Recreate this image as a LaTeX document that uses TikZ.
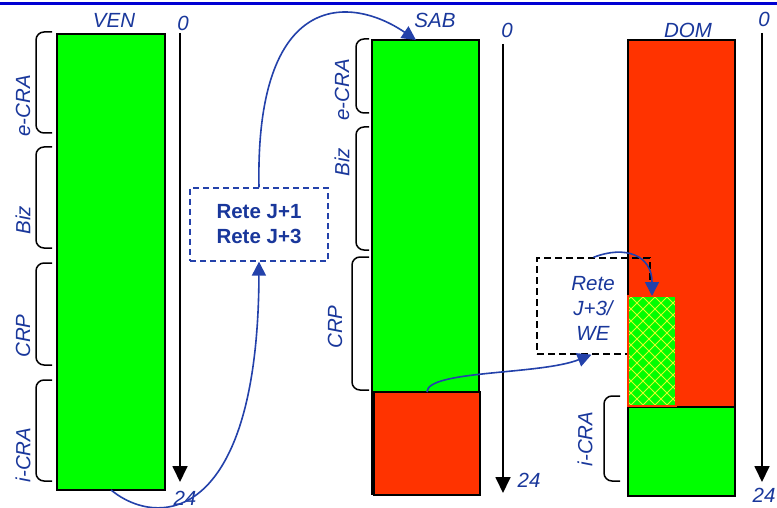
\documentclass[tikz,border=0pt]{standalone}
\usepackage{fontspec}
\setmainfont{Liberation Sans}
\usetikzlibrary{arrows.meta}
\definecolor{txtblue}{RGB}{25,55,155}
\definecolor{arrblue}{RGB}{35,65,170}
\definecolor{topblue}{RGB}{0,0,210}
\definecolor{barg}{RGB}{0,255,0}
\definecolor{barr}{RGB}{255,51,0}
\definecolor{hatchy}{RGB}{220,255,40}
\tikzset{
  bar/.style={draw=black, line width=1.8pt, inner sep=0pt, outer sep=0pt, anchor=north west},
  lbl/.style={text=txtblue, font=\fontsize{20.5}{24}\selectfont\itshape, inner sep=0pt},
  vlbl/.style={lbl, rotate=90},
  brace/.style={draw=black, line width=1.5pt, rounded corners=8pt},
  axis/.style={draw=black, line width=1.8pt, -{Triangle[width=15pt,length=16pt]}},
  conn/.style={draw=arrblue, line width=1.6pt, -{Triangle[width=14pt,length=14pt]}},
}
\begin{document}
\begin{tikzpicture}[x=1pt,y=-1pt]
\useasboundingbox (0,0) rectangle (777,508);
\fill[white] (0,0) rectangle (777,508);
\draw[topblue, line width=3.2pt] (0,3.5) -- (777,3.5);

% bars
\node (ven) [bar, fill=barg, minimum width=108pt, minimum height=456pt] at (57,34) {};
\node (sab) [bar, fill=barg, minimum width=107pt, minimum height=454pt] at (372,40) {};
\node (sabred) [bar, fill=barr, minimum width=106pt, minimum height=103pt] at (374,392) {};
\node (dom) [bar, fill=barr, minimum width=107pt, minimum height=456pt] at (628,40) {};
\node (domg) [bar, fill=barg, minimum width=107pt, minimum height=89pt] at (628,407) {};

% dashed box 2
\node (net2) [draw=black, line width=1.3pt, dash pattern=on 7pt off 4pt, minimum width=113pt, minimum height=96pt, inner sep=0pt] at (593.5,306) {};
\node (net2t) [lbl, align=center, font=\fontsize{20.5}{25}\selectfont\itshape] at (593,308) {Rete\\J+3/\\WE};

% hatched rect
\node (hatch) [anchor=north west, fill=barg, minimum width=48pt, minimum height=110pt, inner sep=0pt, outer sep=0pt] at (628,296) {};
\begin{scope}
  \clip (hatch.north west) rectangle (hatch.south east);
  \foreach \k in {0,...,15} {
    \draw[hatchy, line width=0.9pt] (510+12*\k,406) -- ++(130,-130);
    \draw[hatchy, line width=0.9pt] (510+12*\k,296) -- ++(130,130);
  }
\end{scope}
\draw[barr, line width=1.8pt] (hatch.north west) rectangle (hatch.south east);

% braces VEN
\draw[brace] (52,32) -- (36,32) -- (36,133) -- (52,133);
\draw[brace] (52,147) -- (36,147) -- (36,248) -- (52,248);
\draw[brace] (52,263) -- (36,263) -- (36,365) -- (52,365);
\draw[brace] (52,380) -- (36,380) -- (36,481) -- (52,481);
% braces SAB
\draw[brace] (369,39) -- (356,39) -- (356,113) -- (369,113);
\draw[brace] (369,127) -- (356,127) -- (356,250) -- (369,250);
\draw[brace] (369,257) -- (352,257) -- (352,390) -- (369,390);
% brace DOM
\draw[brace] (620,396) -- (604,396) -- (604,481) -- (620,481);

% brace labels
\node (l1) [vlbl] at (23,106) {e-CRA};
\node (l2) [vlbl] at (23,220) {Biz};
\node (l3) [vlbl] at (23,336) {CRP};
\node (l4) [vlbl] at (23,455) {i-CRA};
\node (l5) [vlbl] at (342,90) {e-CRA};
\node (l6) [vlbl] at (342,162) {Biz};
\node (l7) [vlbl] at (335,327) {CRP};
\node (l8) [vlbl] at (585,439) {i-CRA};

% axes
\coordinate (a1s) at (180,33); \coordinate (a1e) at (180,482);
\coordinate (a2s) at (503,44); \coordinate (a2e) at (503,493);
\coordinate (a3s) at (762,33); \coordinate (a3e) at (762,482);
\draw[axis] (a1s) -- (a1e);
\draw[axis] (a2s) -- (a2e);
\draw[axis] (a3s) -- (a3e);

% titles and numbers
\node (tven) [lbl] at (114,20) {VEN};
\node (tsab) [lbl] at (435,20) {SAB};
\node (tdom) [lbl] at (688,30) {DOM};
\node (z1) [lbl] at (183,23) {0};
\node (z2) [lbl] at (507,30) {0};
\node (z3) [lbl] at (764,19) {0};
\node (n1) [lbl] at (185,498) {24};
\node (n2) [lbl] at (529,480) {24};
\node (n3) [lbl] at (764,495) {24};

% dashed box 1
\node (net1) [draw=arrblue, line width=1.3pt, dash pattern=on 6pt off 4pt, minimum width=138pt, minimum height=73pt, align=center, text=txtblue, font=\fontsize{20.5}{25}\selectfont\bfseries] at (259,224.5) {Rete J+1\\Rete J+3};

% connectors
\coordinate (sabin) at (416,40);
\draw[conn] (ven.south) .. controls (160,530) and (258,520) .. (net1.south);
\draw[conn] (net1.north) .. controls (255,-10) and (350,-5) .. (sabin);
\draw[conn] (sabred.north) .. controls (427,370) and (540,375) .. ([xshift=-2pt]net2.south);
\draw[conn] (net2.north) .. controls (625,245) and (652,255) .. (hatch.north);
\end{tikzpicture}
\end{document}
